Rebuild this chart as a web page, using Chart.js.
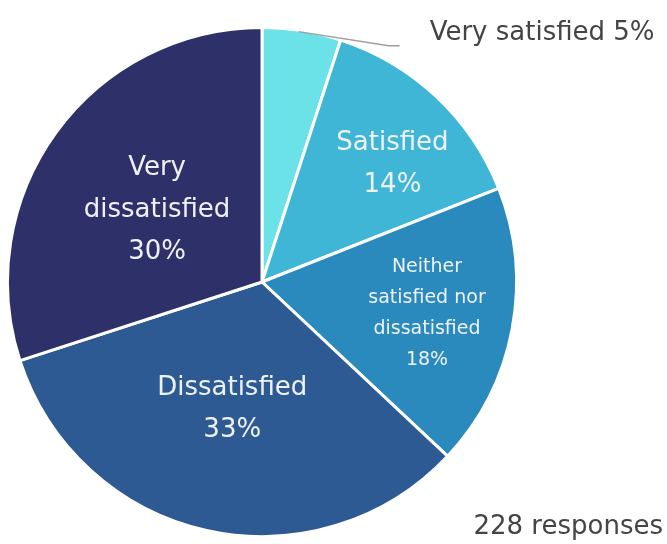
<!DOCTYPE html>
<html>
<head>
<meta charset="utf-8">
<script src="https://cdn.jsdelivr.net/npm/chart.js@4"></script>
<style>
  html, body { margin: 0; padding: 0; background: #fff; }
  #wrap { position: relative; width: 667px; height: 544px; }
</style>
</head>
<body>
<div id="wrap"><canvas id="pie"></canvas></div>
<script>
// --- data ---
const categories = ['Very satisfied', 'Satisfied', 'Neither satisfied nor dissatisfied', 'Dissatisfied', 'Very dissatisfied'];
const shares = [5, 14, 18, 33, 30];
const sliceColors = ['#6be2e8', '#40b6d6', '#2b8abd', '#2e5a94', '#2e3169'];
const totalResponses = 228;

// label lines drawn inside each slice (null = drawn outside)
const labelLines = [
    null,
    ['Satisfied'],
    ['Neither', 'satisfied nor', 'dissatisfied'],
    ['Dissatisfied'],
    ['Very', 'dissatisfied']
];

const FONT = '"DejaVu Sans", sans-serif';

// draws slice labels at each arc's angle
const sliceLabels = {
    id: 'sliceLabels',
    afterDatasetsDraw(chart) {
        const ctx = chart.ctx;
        const arcs = chart.getDatasetMeta(0).data;
        const radFrac = [0, 0.68, 0.66, 0.5, 0.5];
        const nudge = [[0, 0], [12, 8], [0, 0], [-2, 3], [-2, 3]];
        ctx.save();
        ctx.textAlign = 'center';
        ctx.textBaseline = 'middle';
        arcs.forEach((arc, i) => {
            const mid = (arc.startAngle + arc.endAngle) / 2;
            const pct = shares[i] + '%';
            if (!labelLines[i]) {
                // outside label with leader line, anchored at the slice's top edge
                const r = arc.outerRadius;
                const sx = arc.x + Math.cos(mid) * r * 0.92;
                const sy = arc.y + Math.sin(mid) * r + 1;
                ctx.strokeStyle = '#9e9e9e';
                ctx.lineWidth = 1.5;
                ctx.beginPath();
                ctx.moveTo(sx, sy);
                ctx.lineTo(sx + 90, sy + 14);
                ctx.lineTo(sx + 101, sy + 14);
                ctx.stroke();
                ctx.fillStyle = '#444';
                ctx.font = '26px ' + FONT;
                ctx.textAlign = 'left';
                ctx.fillText(categories[i] + ' ' + pct, sx + 131, sy + 2);
                ctx.textAlign = 'center';
                return;
            }
            const r = arc.outerRadius * radFrac[i];
            const cx = arc.x + Math.cos(mid) * r + nudge[i][0];
            const cy = arc.y + Math.sin(mid) * r + nudge[i][1];
            const small = i === 2;
            const size = small ? 19 : 26;
            const lh = small ? 31 : 42;
            const lines = labelLines[i].concat([pct]);
            ctx.fillStyle = '#eef2f6';
            ctx.font = size + 'px ' + FONT;
            const top = cy - (lines.length - 1) * lh / 2;
            lines.forEach((t, k) => ctx.fillText(t, cx, top + k * lh));
        });
        // response count
        ctx.fillStyle = '#444';
        ctx.font = '26px ' + FONT;
        ctx.textAlign = 'right';
        ctx.fillText(totalResponses + ' responses', 663, 527);
        ctx.restore();
    }
};

new Chart(document.getElementById('pie'), {
    type: 'pie',
    data: {
        labels: categories,
        datasets: [{
            data: shares,
            backgroundColor: sliceColors,
            borderColor: '#ffffff',
            borderWidth: 3
        }]
    },
    options: {
        responsive: true,
        maintainAspectRatio: false,
        animation: false,
        layout: { padding: { left: 6, top: 26, right: 149, bottom: 6 } },
        plugins: { legend: { display: false }, tooltip: { enabled: false } }
    },
    plugins: [sliceLabels]
});
</script>
</body>
</html>
